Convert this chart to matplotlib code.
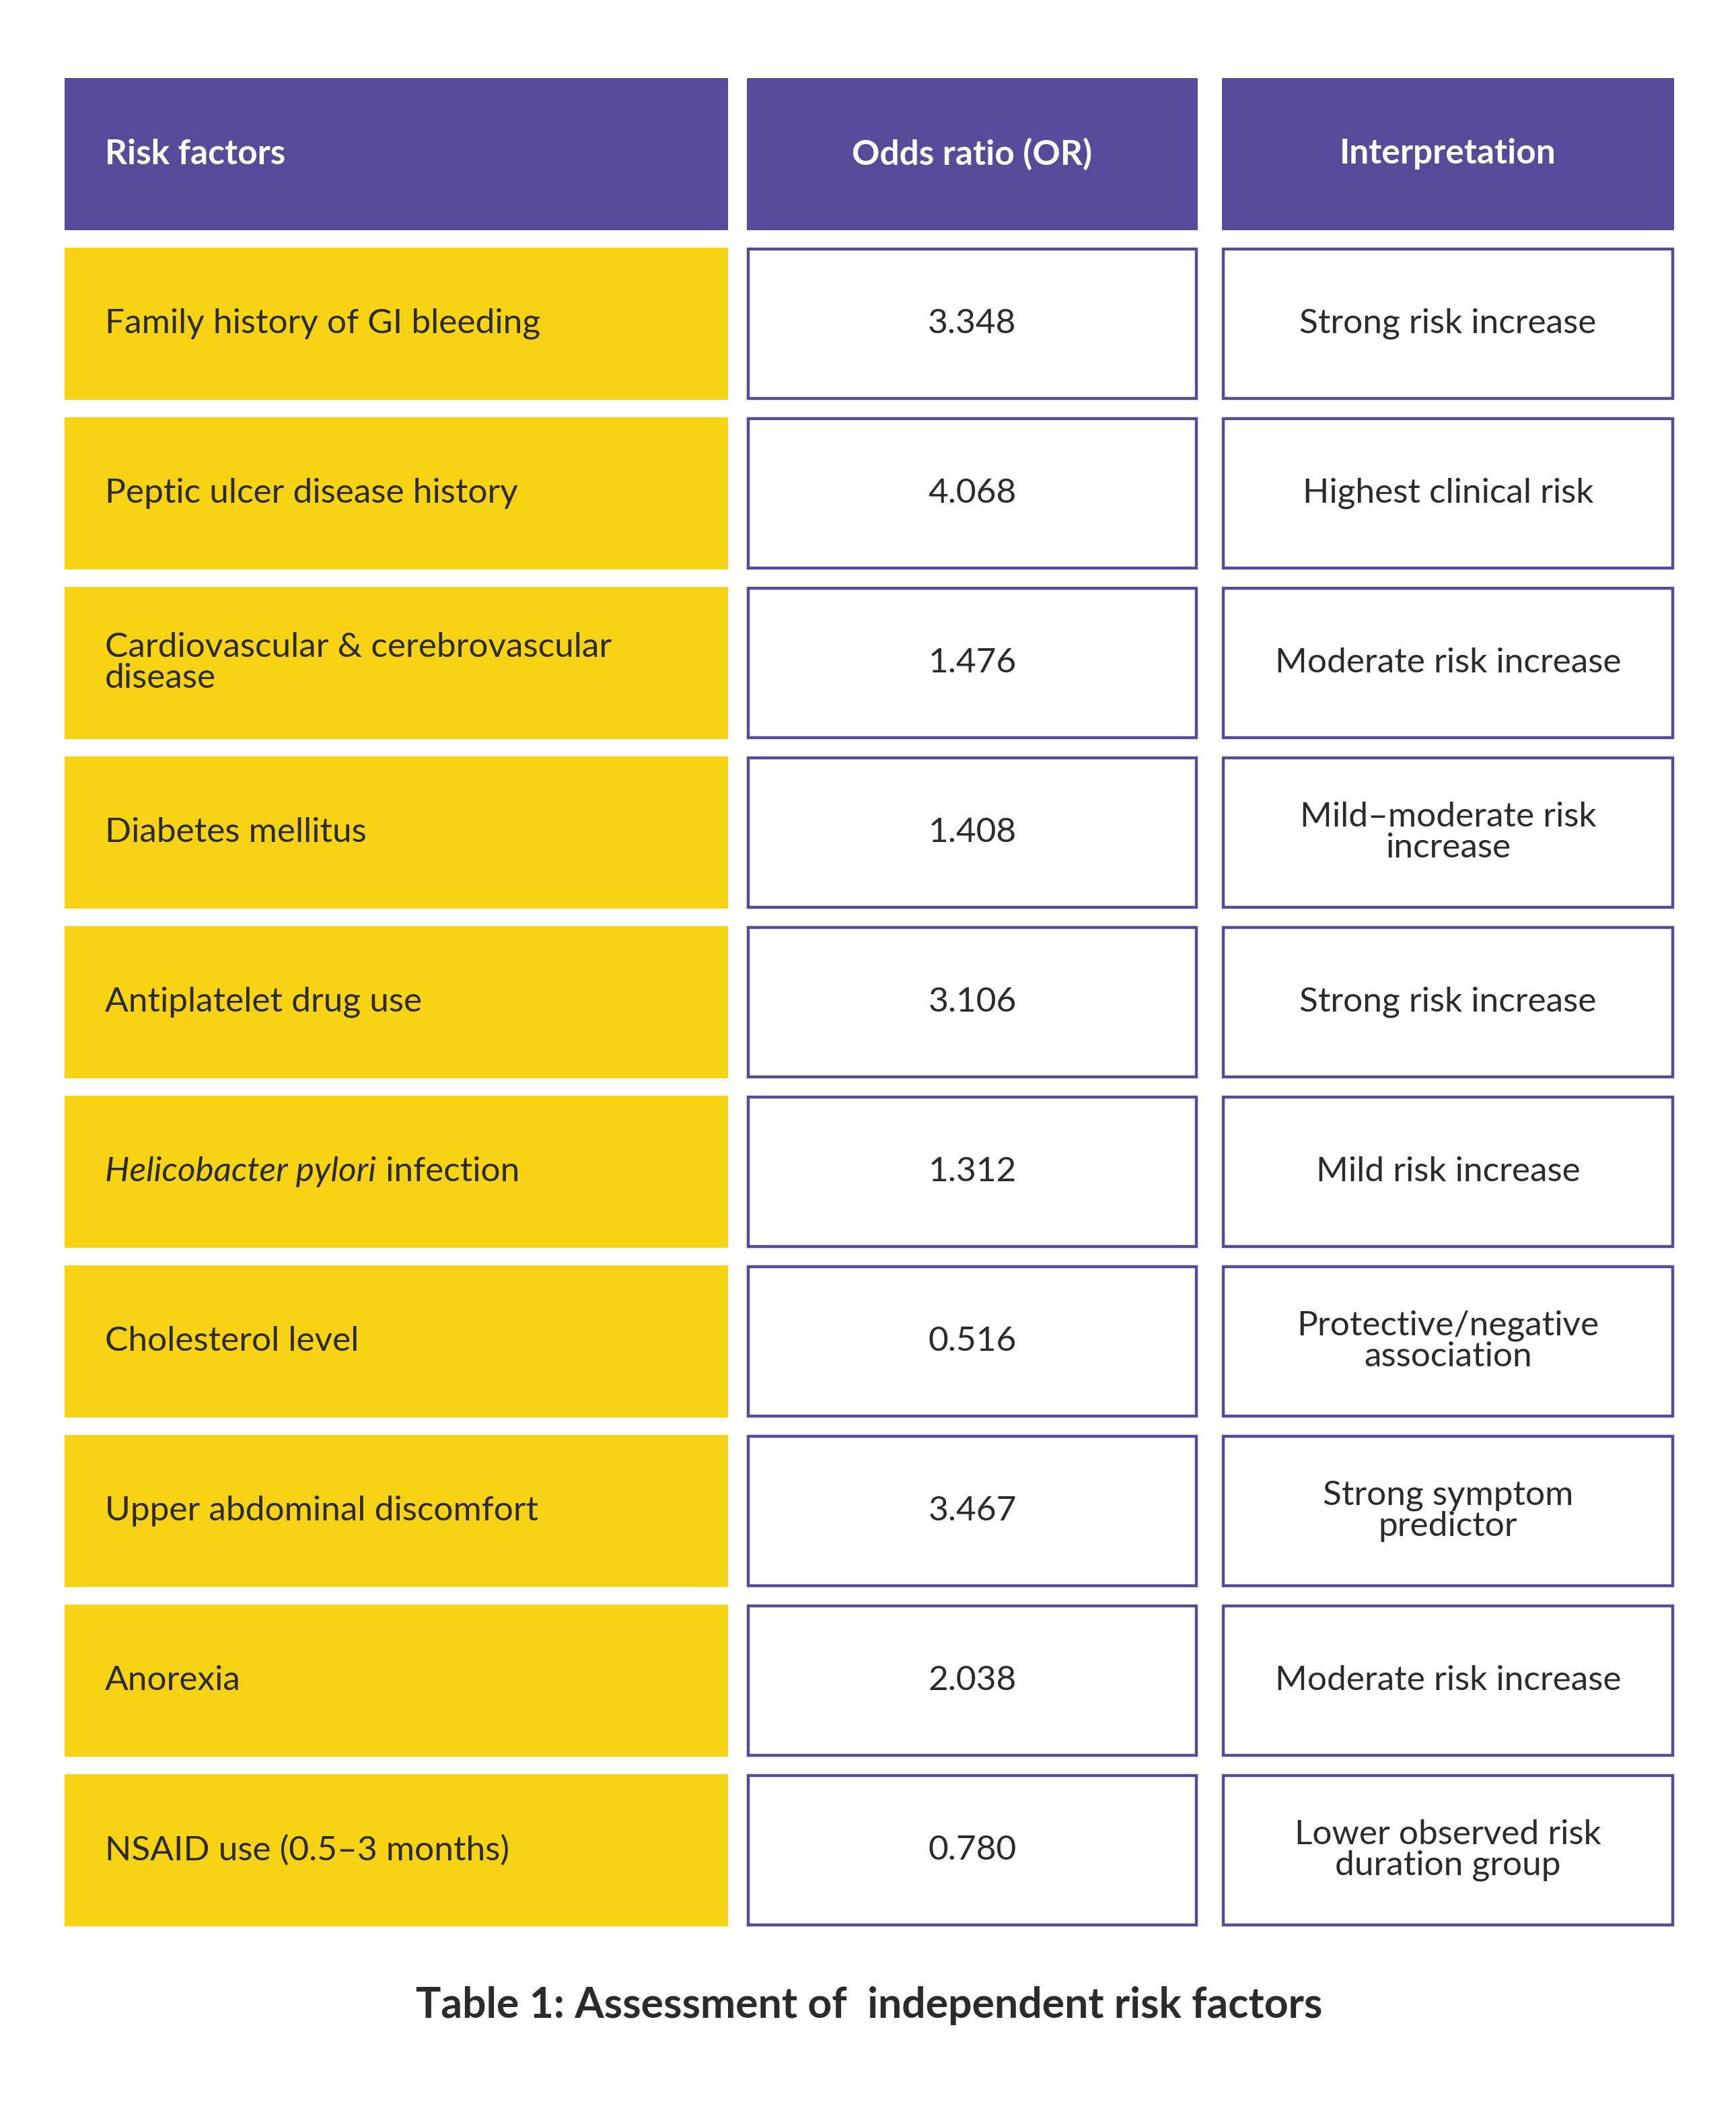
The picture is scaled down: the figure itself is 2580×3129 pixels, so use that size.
#!/usr/bin/env python

import numpy as np
import matplotlib
matplotlib.use("Agg")

purple = '#574A98'
yellow = '#F7D313'
ink = '#2B2B2B'

def makeTable(rows, header, title, outFile):
    import matplotlib.pyplot as plt
    from matplotlib.patches import Rectangle
    plt.rcParams['font.family'] = ['Lato', 'DejaVu Sans']
    fig = plt.figure(figsize=(12.9, 15.645))
    ax = fig.add_axes([0, 0, 1, 1])
    ax.set_xlim(0, 1290)
    ax.set_ylim(1564.5, 0)
    ax.axis('off')

    cols = [(48, 541), (555, 890), (908, 1244)]
    top = 58
    h = 113
    pitch = 126

    # header
    for i, (x0, x1) in enumerate(cols):
        ax.add_patch(Rectangle((x0, top), x1 - x0, h, color=purple, lw=0))
        if i == 0:
            ax.text(78, top + h/2, header[i], color='white', fontsize=18.5, fontweight='bold', va='center', ha='left')
        else:
            ax.text((x0 + x1)/2, top + h/2, header[i], color='white', fontsize=18.5, fontweight='bold', va='center', ha='center')

    fig.canvas.draw()
    renderer = fig.canvas.get_renderer()

    for r, (factor, odds, interp) in enumerate(rows):
        y0 = top + pitch * (r + 1)
        yc = y0 + h/2
        (a0, a1), (b0, b1), (c0, c1) = cols
        ax.add_patch(Rectangle((a0, y0), a1 - a0, h, color=yellow, lw=0))
        ax.add_patch(Rectangle((b0 + 1, y0 + 1), b1 - b0 - 2, h - 2, facecolor='white', edgecolor=purple, lw=1.6))
        ax.add_patch(Rectangle((c0 + 1, y0 + 1), c1 - c0 - 2, h - 2, facecolor='white', edgecolor=purple, lw=1.6))

        if factor.startswith('*'):
            ital, rest = factor[1:].split('*')
            t = ax.text(78, yc, ital, color=ink, fontsize=18.5, style='italic', va='center', ha='left')
            bb = t.get_window_extent(renderer).transformed(ax.transData.inverted())
            ax.text(bb.x1, yc, rest, color=ink, fontsize=18.5, va='center', ha='left')
        else:
            ax.text(78, yc, factor, color=ink, fontsize=18.5, va='center', ha='left', linespacing=1.0)
        ax.text((b0 + b1)/2, yc, odds, color=ink, fontsize=18.5, va='center', ha='center')
        ax.text((c0 + c1)/2, yc, interp, color=ink, fontsize=18.5, va='center', ha='center', linespacing=1.0)

    ax.text(646, 1490, title, color=ink, fontsize=22.5, fontweight='bold', va='center', ha='center')

    plt.savefig(outFile, dpi=200)


rows = [
    ("Family history of GI bleeding", "3.348", "Strong risk increase"),
    ("Peptic ulcer disease history", "4.068", "Highest clinical risk"),
    ("Cardiovascular & cerebrovascular\ndisease", "1.476", "Moderate risk increase"),
    ("Diabetes mellitus", "1.408", "Mild\u2013moderate risk\nincrease"),
    ("Antiplatelet drug use", "3.106", "Strong risk increase"),
    ("*Helicobacter pylori* infection", "1.312", "Mild risk increase"),
    ("Cholesterol level", "0.516", "Protective/negative\nassociation"),
    ("Upper abdominal discomfort", "3.467", "Strong symptom\npredictor"),
    ("Anorexia", "2.038", "Moderate risk increase"),
    ("NSAID use (0.5\u20133 months)", "0.780", "Lower observed risk\nduration group"),
]
header = ["Risk factors", "Odds ratio (OR)", "Interpretation"]

makeTable(rows, header, "Table 1: Assessment of  independent risk factors", "out.png")
